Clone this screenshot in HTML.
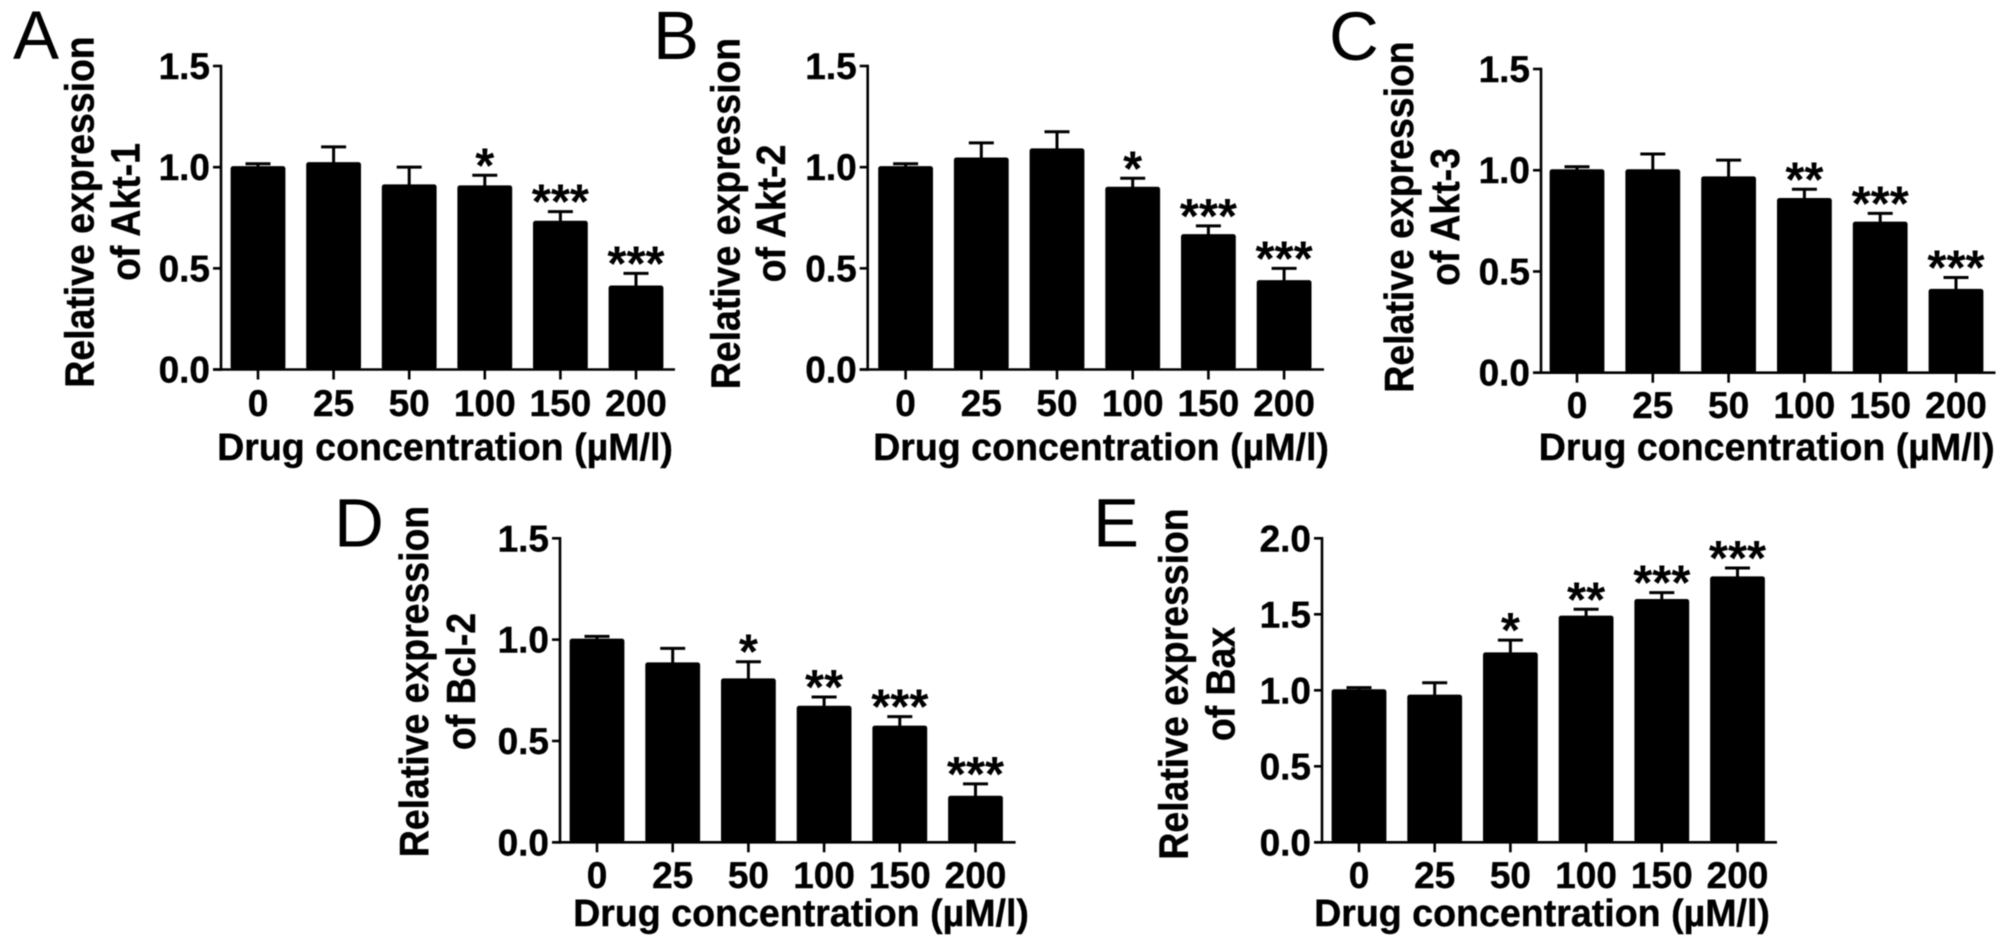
<!DOCTYPE html>
<html lang="en">
<head>
<meta charset="utf-8">
<title>Relative expression by drug concentration</title>
<style>
  html, body { margin: 0; padding: 0; background: #fff; }
  svg { display: block; }
  text { font-family: "Liberation Sans", Arial, sans-serif; fill: #000; }
  .bold { font-weight: 700; stroke: #000; stroke-width: 0.4px; }
  .tick { font-size: 37px; }
  .title { font-size: 37.6px; }
  .letter { font-size: 69px; font-weight: 400; }
  .star { font-size: 49px; font-weight: 700; }
  #plot { filter: blur(0.6px); }
</style>
</head>
<body>
<svg id="chart" width="2008" height="947" viewBox="0 0 2008 947" xmlns="http://www.w3.org/2000/svg">
  <rect x="0" y="0" width="2008" height="947" fill="#fff"></rect>
  <g id="plot"></g>
</svg>
<script>
const categories = ['0', '25', '50', '100', '150', '200'];
const xAxisTitle = 'Drug concentration (µM/l)';
const yAxisTitleLine1 = 'Relative expression';

const ticksStandard = ['0.0', '0.5', '1.0', '1.5'];
const ticksBax = ['0.0', '0.5', '1.0', '1.5', '2.0'];

const valuesAkt1 = [1.0, 1.02, 0.91, 0.905, 0.73, 0.41];
const errorsAkt1 = [1.017, 1.10, 1.0, 0.96, 0.78, 0.475];
const starsAkt1 = ['', '', '', '*', '***', '***'];

const valuesAkt2 = [1.0, 1.043, 1.088, 0.898, 0.664, 0.437];
const errorsAkt2 = [1.017, 1.12, 1.175, 0.945, 0.71, 0.50];
const starsAkt2 = ['', '', '', '*', '***', '***'];

const valuesAkt3 = [1.0, 1.0, 0.965, 0.858, 0.741, 0.409];
const errorsAkt3 = [1.017, 1.08, 1.05, 0.906, 0.787, 0.47];
const starsAkt3 = ['', '', '', '**', '***', '***'];

const valuesBcl2 = [1.0, 0.883, 0.804, 0.669, 0.571, 0.225];
const errorsBcl2 = [1.016, 0.957, 0.891, 0.717, 0.62, 0.288];
const starsBcl2 = ['', '', '*', '**', '***', '***'];

const valuesBax = [1.0, 0.965, 1.243, 1.485, 1.594, 1.743];
const errorsBax = [1.018, 1.05, 1.33, 1.533, 1.643, 1.805];
const starsBax = ['', '', '*', '**', '***', '***'];

const SVG_NS = 'http://www.w3.org/2000/svg';
const root = document.getElementById('plot');

function make(tag, attrs, parent, content) {
  const node = document.createElementNS(SVG_NS, tag);
  Object.keys(attrs).forEach(function (k) { node.setAttribute(k, attrs[k]); });
  if (content !== undefined) node.textContent = content;
  parent.appendChild(node);
  return node;
}

function drawPanel(p) {
  const yMax = parseFloat(p.ticks[p.ticks.length - 1]);
  const yScale = function (v) { return p.y0 - (v / yMax) * (p.y0 - p.yTop); };
  const xScale = function (i) { return p.x0 + i * p.step; };

  const g = make('g', {}, root);
  
  

  const letter = make('text', { x: p.letterX, y: p.letterY, 'class': 'letter' }, g, p.letter);
  
  

  p.values.forEach(function (v, i) {
    const cx = xScale(i);
    const bar = make('rect', {
      x: cx - 27.4, y: yScale(v) - 1, width: 54.8, height: p.y0 - yScale(v) + 1, rx: 2.5, fill: '#000'
    }, g);
    
    

    const stem = make('line', {
      x1: cx, x2: cx, y1: yScale(v), y2: yScale(p.errors[i]), stroke: '#000', 'stroke-width': 3
    }, g);
    
    

    const cap = make('line', {
      x1: cx - 12.5, x2: cx + 12.5, y1: yScale(p.errors[i]), y2: yScale(p.errors[i]), stroke: '#000', 'stroke-width': 3
    }, g);
    
    

    if (p.stars[i]) {
      const star = make('text', {
        x: cx, y: yScale(p.errors[i]) + 7, 'text-anchor': 'middle', 'class': 'star'
      }, g, p.stars[i]);
      
      
    }

    const xTick = make('line', {
      x1: cx, x2: cx, y1: p.y0, y2: p.y0 + 10, stroke: '#000', 'stroke-width': 2.6
    }, g);
    
    

    const xLabel = make('text', {
      x: cx, y: p.tickBase, 'text-anchor': 'middle', 'class': 'bold tick'
    }, g, categories[i]);
    
    
  });

  const yAxis = make('line', {
    x1: p.axisX, x2: p.axisX, y1: p.yTop - 1.3, y2: p.y0 + 1.3, stroke: '#000', 'stroke-width': 2.6
  }, g);
  
  

  const xAxis = make('line', {
    x1: p.axisX - 8, x2: p.axisEnd, y1: p.y0, y2: p.y0, stroke: '#000', 'stroke-width': 2.6
  }, g);
  
  

  p.ticks.forEach(function (t) {
    const ty = yScale(parseFloat(t));
    const yTick = make('line', {
      x1: p.axisX - 8, x2: p.axisX, y1: ty, y2: ty, stroke: '#000', 'stroke-width': 2.6
    }, g);
    
    

    const yLabel = make('text', {
      x: p.axisX - 11, y: ty + 13, 'text-anchor': 'end', 'class': 'bold tick'
    }, g, t);
    
    
  });

  const xT = make('text', {
    x: p.xTitleX, y: p.xTitleY, 'text-anchor': 'middle', 'class': 'bold title'
  }, g, xAxisTitle);
  
  

  const yT1 = make('text', {
    transform: 'translate(' + (p.yTitle1X - 1) + ',' + p.yTitleY + ') rotate(-90) scale(0.995,1.08)',
    'text-anchor': 'middle', 'class': 'bold title'
  }, g, yAxisTitleLine1);
  
  

  const yT2 = make('text', {
    transform: 'translate(' + (p.yTitle2X - 1) + ',' + p.yTitleY + ') rotate(-90) scale(0.995,1.08)',
    'text-anchor': 'middle', 'class': 'bold title'
  }, g, p.line2);
  
  
}

drawPanel({ id: 'a', letter: 'A', line2: 'of Akt-1', ticks: ticksStandard, values: valuesAkt1, errors: errorsAkt1, stars: starsAkt1,
  axisX: 221, axisEnd: 675, yTop: 66, y0: 369.5, x0: 258, step: 75.6, tickBase: 416,
  xTitleX: 445, xTitleY: 460, yTitle1X: 94.6, yTitle2X: 140.6, yTitleY: 212, letterX: 13, letterY: 59 });

drawPanel({ id: 'b', letter: 'B', line2: 'of Akt-2', ticks: ticksStandard, values: valuesAkt2, errors: errorsAkt2, stars: starsAkt2,
  axisX: 867.7, axisEnd: 1324, yTop: 66, y0: 369.5, x0: 905.6, step: 75.7, tickBase: 416,
  xTitleX: 1101, xTitleY: 460, yTitle1X: 740.4, yTitle2X: 786, yTitleY: 213.5, letterX: 653, letterY: 59 });

drawPanel({ id: 'c', letter: 'C', line2: 'of Akt-3', ticks: ticksStandard, values: valuesAkt3, errors: errorsAkt3, stars: starsAkt3,
  axisX: 1541, axisEnd: 1995.5, yTop: 69, y0: 372.7, x0: 1577, step: 75.8, tickBase: 418,
  xTitleX: 1766.7, xTitleY: 460, yTitle1X: 1414, yTitle2X: 1460, yTitleY: 217, letterX: 1329, letterY: 60 });

drawPanel({ id: 'd', letter: 'D', line2: 'of Bcl-2', ticks: ticksStandard, values: valuesBcl2, errors: errorsBcl2, stars: starsBcl2,
  axisX: 560, axisEnd: 1015.6, yTop: 538.3, y0: 842.3, x0: 597, step: 75.7, tickBase: 888,
  xTitleX: 801, xTitleY: 926, yTitle1X: 429, yTitle2X: 476, yTitleY: 681.5, letterX: 334, letterY: 546.7 });

drawPanel({ id: 'e', letter: 'E', line2: 'of Bax', ticks: ticksBax, values: valuesBax, errors: errorsBax, stars: starsBax,
  axisX: 1322, axisEnd: 1777, yTop: 538.3, y0: 842.3, x0: 1359, step: 75.7, tickBase: 888,
  xTitleX: 1542, xTitleY: 926, yTitle1X: 1188.7, yTitle2X: 1235.5, yTitleY: 684, letterX: 1093, letterY: 546.7 });
</script>
</body>
</html>
